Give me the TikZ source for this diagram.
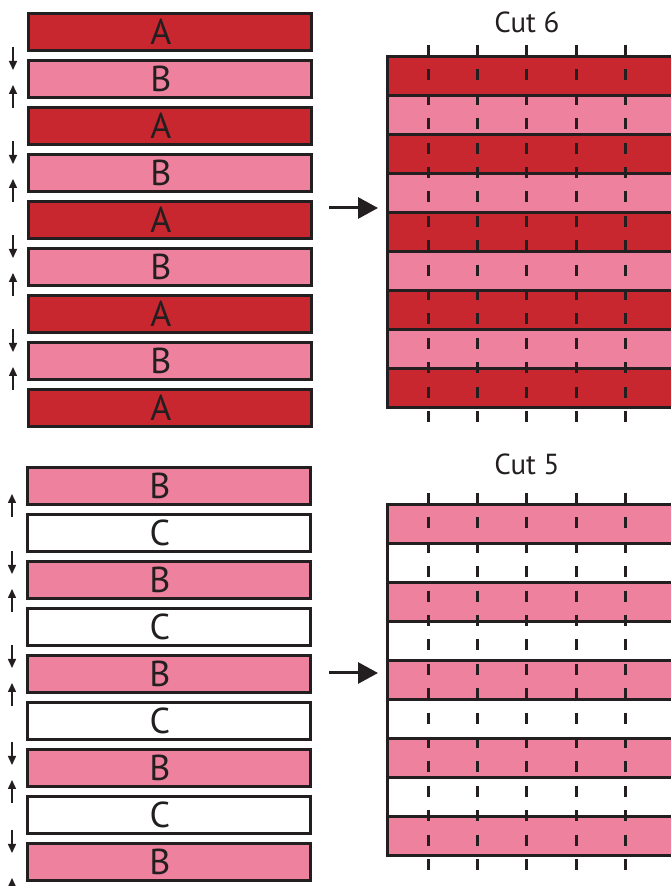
\documentclass[tikz,border=0pt]{standalone}
\usepackage{fontspec}
\setmainfont{PT Sans}
\usetikzlibrary{positioning,arrows.meta}
\definecolor{layerred}{HTML}{C8272F}
\definecolor{layerpink}{HTML}{EE819E}
\definecolor{inkgrey}{HTML}{231F20}

\begin{document}
\begin{tikzpicture}[x=1pt, y=1pt, node distance=7pt,
  strip/.style={draw=inkgrey, line width=3pt, minimum width=283pt, minimum height=37pt, inner sep=0pt, text=inkgrey, font=\fontsize{36}{36}\selectfont, execute at begin node={\hspace*{-18pt}}},
  layer/.style={draw=inkgrey, line width=3pt, minimum width=313pt, minimum height=39pt, inner sep=0pt, outer sep=0pt},
  cutline/.style={inkgrey, line width=3pt, dash pattern=on 11pt off 13.4pt},
  nudge/.style={-{Triangle[length=9pt,width=8pt]}, line width=1.5pt, color=inkgrey},
  push/.style={-{Triangle[length=20pt,width=21pt]}, line width=3pt, color=inkgrey}]

\useasboundingbox (0,0) rectangle (671,886);
\begin{scope}
\clip (0,0) rectangle (671,886);

% top stack, A and B
\node[strip, fill=layerred] (top1) at (170,854) {A};
\node[strip, fill=layerpink, below=of top1] (top2) {B};
\node[strip, fill=layerred, below=of top2] (top3) {A};
\node[strip, fill=layerpink, below=of top3] (top4) {B};
\node[strip, fill=layerred, below=of top4] (top5) {A};
\node[strip, fill=layerpink, below=of top5] (top6) {B};
\node[strip, fill=layerred, below=of top6] (top7) {A};
\node[strip, fill=layerpink, below=of top7] (top8) {B};
\node[strip, fill=layerred, below=of top8] (top9) {A};

% bottom stack, B and C
\node[strip, fill=layerpink] (low1) at (169,400) {B};
\node[strip, fill=white, below=of low1] (low2) {C};
\node[strip, fill=layerpink, below=of low2] (low3) {B};
\node[strip, fill=white, below=of low3] (low4) {C};
\node[strip, fill=layerpink, below=of low4] (low5) {B};
\node[strip, fill=white, below=of low5] (low6) {C};
\node[strip, fill=layerpink, below=of low6] (low7) {B};
\node[strip, fill=white, below=of low7] (low8) {C};
\node[strip, fill=layerpink, below=of low8] (low9) {B};

% small arrows beside the B strips
\draw[nudge] ([xshift=-14pt,yshift=12pt]top2.north west) -- ++(0,-23pt);
\draw[nudge] ([xshift=-14pt,yshift=-9pt]top2.south west) -- ++(0,23pt);
\draw[nudge] ([xshift=-14pt,yshift=12pt]top4.north west) -- ++(0,-23pt);
\draw[nudge] ([xshift=-14pt,yshift=-9pt]top4.south west) -- ++(0,23pt);
\draw[nudge] ([xshift=-14pt,yshift=12pt]top6.north west) -- ++(0,-23pt);
\draw[nudge] ([xshift=-14pt,yshift=-9pt]top6.south west) -- ++(0,23pt);
\draw[nudge] ([xshift=-14pt,yshift=12pt]top8.north west) -- ++(0,-23pt);
\draw[nudge] ([xshift=-14pt,yshift=-9pt]top8.south west) -- ++(0,23pt);
\draw[nudge] ([xshift=-14pt,yshift=-11pt]low1.south west) -- ++(0,23pt);
\draw[nudge] ([xshift=-14pt,yshift=9pt]low3.north west) -- ++(0,-23pt);
\draw[nudge] ([xshift=-14pt,yshift=-12pt]low3.south west) -- ++(0,23pt);
\draw[nudge] ([xshift=-14pt,yshift=9pt]low5.north west) -- ++(0,-23pt);
\draw[nudge] ([xshift=-14pt,yshift=-12pt]low5.south west) -- ++(0,23pt);
\draw[nudge] ([xshift=-14pt,yshift=6pt]low7.north west) -- ++(0,-23pt);
\draw[nudge] ([xshift=-14pt,yshift=-15pt]low7.south west) -- ++(0,23pt);
\draw[nudge] ([xshift=-14pt,yshift=12pt]low9.north west) -- ++(0,-23pt);
\draw[nudge] ([xshift=-14pt,yshift=-19pt]low9.south west) -- ++(0,23pt);

% cut 6 block
\node[text=inkgrey, font=\fontsize{29}{29}\selectfont] (cutsix) at (527,864) {Cut 6};
\node[layer, fill=layerred] (six1) at (543.75,809.5) {};
\node[layer, fill=layerpink, below=0pt of six1] (six2) {};
\node[layer, fill=layerred, below=0pt of six2] (six3) {};
\node[layer, fill=layerpink, below=0pt of six3] (six4) {};
\node[layer, fill=layerred, below=0pt of six4] (six5) {};
\node[layer, fill=layerpink, below=0pt of six5] (six6) {};
\node[layer, fill=layerred, below=0pt of six6] (six7) {};
\node[layer, fill=layerpink, below=0pt of six7] (six8) {};
\node[layer, fill=layerred, below=0pt of six8] (six9) {};
\draw[cutline] (428,841) -- (428,463);
\draw[cutline] (477,841) -- (477,463);
\draw[cutline] (526,841) -- (526,463);
\draw[cutline] (576,841) -- (576,463);
\draw[cutline] (625,841) -- (625,463);

% cut 5 block
\node[text=inkgrey, font=\fontsize{29}{29}\selectfont] (cutfive) at (527,422) {Cut 5};
\node[layer, fill=layerpink] (five1) at (543.75,362) {};
\node[layer, fill=white, below=0pt of five1] (five2) {};
\node[layer, fill=layerpink, below=0pt of five2] (five3) {};
\node[layer, fill=white, below=0pt of five3] (five4) {};
\node[layer, fill=layerpink, below=0pt of five4] (five5) {};
\node[layer, fill=white, below=0pt of five5] (five6) {};
\node[layer, fill=layerpink, below=0pt of five6] (five7) {};
\node[layer, fill=white, below=0pt of five7] (five8) {};
\node[layer, fill=layerpink, below=0pt of five8] (five9) {};
\draw[cutline] (428,393) -- (428,16);
\draw[cutline] (477,393) -- (477,16);
\draw[cutline] (526,393) -- (526,16);
\draw[cutline] (576,393) -- (576,16);
\draw[cutline] (625,393) -- (625,16);

% stack to block arrows
\coordinate (goA) at (329,678);
\coordinate (toA) at (378,678);
\coordinate (goB) at (329,213);
\coordinate (toB) at (378,213);
\draw[push] (goA) -- (toA);
\draw[push] (goB) -- (toB);
\end{scope}
\end{tikzpicture}
\end{document}
